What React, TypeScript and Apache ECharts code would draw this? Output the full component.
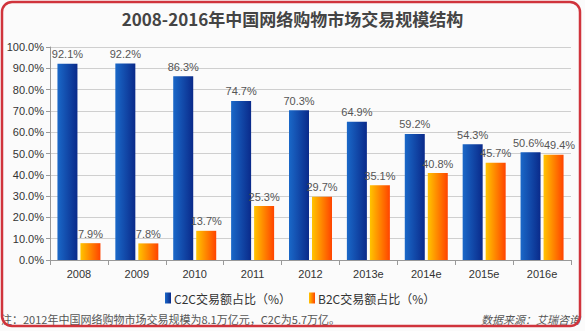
import React, { useEffect, useRef } from "react";
import * as echarts from "echarts";

const categories = ["2008", "2009", "2010", "2011", "2012", "2013e", "2014e", "2015e", "2016e"];
const c2cShare = [92.1, 92.2, 86.3, 74.7, 70.3, 64.9, 59.2, 54.3, 50.6];
const b2cShare = [7.9, 7.8, 13.7, 25.3, 29.7, 35.1, 40.8, 45.7, 49.4];
const seriesNames = ["C2C交易额占比（%）", "B2C交易额占比（%）"];
const titleText = "2008-2016年中国网络购物市场交易规模结构";
const noteText = "注：2012年中国网络购物市场交易规模为8.1万亿元，C2C为5.7万亿。";
const sourceText = "数据来源：艾瑞咨询";

const blueGrad = () =>
  new echarts.graphic.LinearGradient(0, 0, 1, 0, [
    { offset: 0, color: "#1a68c8" },
    { offset: 1, color: "#0a2a8a" },
  ]);
const orangeGrad = () =>
  new echarts.graphic.LinearGradient(0, 0, 1, 0, [
    { offset: 0, color: "#ffc400" },
    { offset: 1, color: "#ff4400" },
  ]);

export default function App() {
  const ref = useRef<HTMLDivElement>(null);
  useEffect(() => {
    if (!ref.current) return;
    const chart = echarts.init(ref.current, null, { renderer: "svg" });
    const latin = "'Liberation Sans', Arial, sans-serif";
    const cjk = "'Noto Sans CJK SC', 'Liberation Sans', sans-serif";
    const lastIdx = categories.length - 1;
    const labelBase = {
      show: true,
      position: "top",
      distance: 4,
      fontFamily: latin,
      fontSize: 11,
      color: "#555",
      formatter: (p: any) => p.value.toFixed(1) + "%",
    };
    chart.setOption({
      animation: false,
      backgroundColor: "#fbfbfb",
      title: {
        text: titleText,
        left: "center",
        top: 5,
        textStyle: { fontFamily: cjk, fontSize: 17, fontWeight: "bold", color: "#444" },
      },
      grid: { left: 50, right: 14, top: 47, bottom: 71, containLabel: false },
      legend: {
        bottom: 22,
        left: 160,
        itemWidth: 6,
        itemHeight: 11,
        itemGap: 18,
        icon: "rect",
        textStyle: { fontFamily: cjk, fontSize: 12, color: "#333", padding: [0, 0, 0, -2] },
        data: seriesNames,
      },
      xAxis: {
        type: "category",
        data: categories,
        axisLine: { lineStyle: { color: "#999" } },
        axisTick: { show: true, lineStyle: { color: "#999" } },
        axisLabel: { fontFamily: latin, fontSize: 11, color: "#333", margin: 8 },
      },
      yAxis: {
        type: "value",
        min: 0,
        max: 100,
        interval: 10,
        axisLine: { show: true, lineStyle: { color: "#999" } },
        axisTick: { show: true, length: 4, lineStyle: { color: "#999" } },
        splitLine: { lineStyle: { color: "#cfcfcf" } },
        axisLabel: {
          fontFamily: latin,
          fontSize: 11,
          color: "#333",
          margin: 6,
          formatter: (v: number) => v.toFixed(1) + "%",
        },
      },
      series: [
        {
          name: seriesNames[0],
          type: "bar",
          data: c2cShare.map((v, i) =>
            i === lastIdx ? { value: v, label: { offset: [-2, 0] } } : v
          ),
          barWidth: 20,
          barGap: "15%",
          itemStyle: { color: blueGrad() },
          label: labelBase,
        },
        {
          name: seriesNames[1],
          type: "bar",
          data: b2cShare.map((v, i) =>
            i === lastIdx ? { value: v, label: { offset: [6, 0] } } : v
          ),
          barWidth: 20,
          itemStyle: { color: orangeGrad() },
          label: labelBase,
        },
      ],
      graphic: [
        {
          type: "text",
          left: 1,
          top: 313,
          style: { text: noteText, fontFamily: cjk, fontSize: 11, fill: "#555" },
        },
        {
          type: "text",
          right: 5,
          top: 313,
          style: { text: sourceText, fontFamily: cjk, fontSize: 11, fontStyle: "italic", fill: "#555" },
        },
        {
          type: "rect",
          shape: { x: 2, y: 2, width: 578, height: 324, r: 10 },
          style: { fill: "none", stroke: "#d0343c", lineWidth: 2.5 },
          silent: true,
        },
      ],
    });
    return () => chart.dispose();
  }, []);
  return (
    <div
      ref={ref}
      style={{ position: "fixed", left: 0, top: 0, width: 585, height: 331 }}
    />
  );
}
